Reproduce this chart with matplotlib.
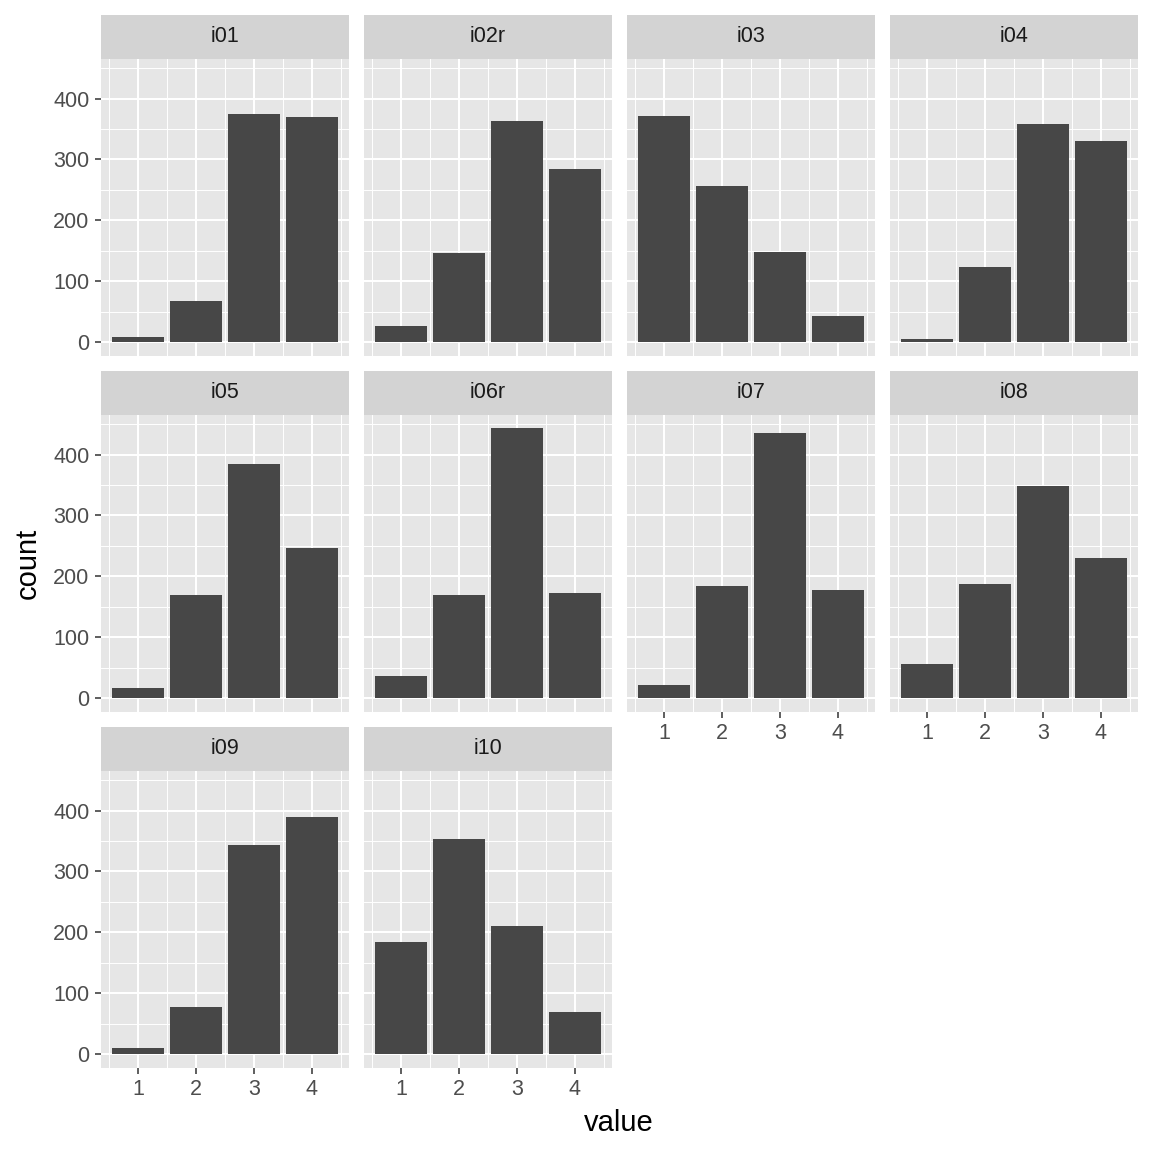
import numpy as np
import matplotlib
matplotlib.use('Agg')
import matplotlib.pyplot as plt

plt.rcParams['font.family'] = ['Liberation Sans', 'DejaVu Sans']

# counts per response value (1..4) for each item
values = [1, 2, 3, 4]
items = ['i01', 'i02r', 'i03', 'i04', 'i05', 'i06r', 'i07', 'i08', 'i09', 'i10']
i01 = [9, 68, 374, 370]
i02r = [26, 146, 363, 285]
i03 = [372, 257, 148, 43]
i04 = [5, 123, 359, 330]
i05 = [17, 169, 385, 246]
i06r = [36, 169, 443, 172]
i07 = [21, 184, 436, 177]
i08 = [56, 187, 348, 230]
i09 = [10, 77, 343, 390]
i10 = [184, 354, 211, 69]
counts = [i01, i02r, i03, i04, i05, i06r, i07, i08, i09, i10]

W = H = 1152
PANEL_BG = '#E6E6E6'
STRIP_BG = '#D3D3D3'
BAR = '#474747'
TICK_TXT = '#4D4D4D'

col_left = [101, 364, 627, 890]
panel_w = 248
strip_top = [15, 371, 727]
strip_h = 44
panel_h = 296.5


def frac(x, y, w, h):
    # pixel box (top-left origin) -> figure fraction
    return [x / W, 1 - (y + h) / H, w / W, h / H]


fig = plt.figure(figsize=(W / 100, H / 100), dpi=100)

ymax = max(max(c) for c in counts)
ylim = (-0.05 * ymax, ymax * 1.05)
xlim = (0.55 - 0.195, 4.45 + 0.195)

ncol = 4
for k, (name, cnt) in enumerate(zip(items, counts)):
    r, c = divmod(k, ncol)
    x0 = col_left[c]
    y0 = strip_top[r]

    # strip
    sax = fig.add_axes(frac(x0, y0, panel_w, strip_h))
    sax.set_facecolor(STRIP_BG)
    sax.set_xticks([])
    sax.set_yticks([])
    for s in sax.spines.values():
        s.set_visible(False)
    sax.text(0.5, 0.5, name, ha='center', va='center', fontsize=15.5,
             color='#1A1A1A', transform=sax.transAxes)

    # panel
    ax = fig.add_axes(frac(x0, y0 + strip_h, panel_w, panel_h))
    ax.set_facecolor(PANEL_BG)
    ax.bar(values, cnt, width=0.9, color=BAR, zorder=3)
    ax.set_xlim(*xlim)
    ax.set_ylim(*ylim)
    ax.set_xticks(values)
    ax.set_xticks(np.arange(0.5, 5.0, 1.0), minor=True)
    ax.set_yticks(np.arange(0, 401, 100))
    ax.set_yticks(np.arange(50, 451, 100), minor=True)
    ax.grid(which='major', color='white', lw=1.45)
    ax.grid(which='minor', color='white', lw=0.7)
    ax.set_axisbelow(True)
    for s in ax.spines.values():
        s.set_visible(False)
    ax.tick_params(which='minor', length=0)
    ax.tick_params(which='major', length=4.3, width=1.1, color='#333333',
                   labelsize=15.5, labelcolor=TICK_TXT, pad=4)

    show_y = c == 0
    show_x = (k + ncol) >= len(items)
    if not show_y:
        ax.tick_params(axis='y', length=0, labelleft=False)
    if not show_x:
        ax.tick_params(axis='x', length=0, labelbottom=False)

fig.text(619 / W, 1 - 1123 / H, 'value', ha='center', va='center',
         fontsize=21, color='black')
fig.text(28 / W, 1 - 563 / H, 'count', ha='center', va='center',
         fontsize=21, color='black', rotation=90)

fig.savefig('out.png', dpi=100, facecolor='white')
